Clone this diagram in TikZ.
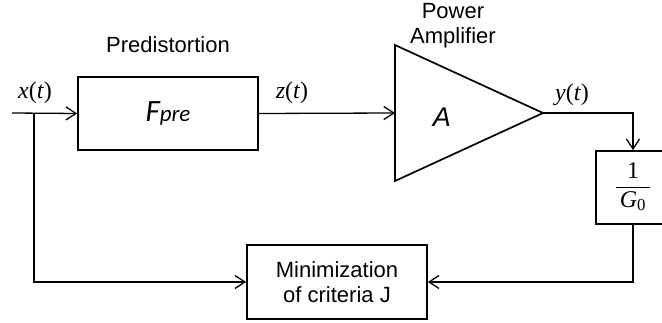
\documentclass[tikz,border=0pt]{standalone}
\usepackage{fontspec}
\newfontfamily\labelfont{Liberation Sans}
\newfontfamily\blockfont{Carlito}
\newfontfamily\signalfont{Liberation Serif}
\usetikzlibrary{arrows.meta}
\newcommand{\sig}[1]{{\itshape #1}(\textit{t})}
\begin{document}
\begin{tikzpicture}[x=1pt,y=-1pt,
  conn/.style={line width=1.3pt},
  arr/.style={conn,-{Straight Barb[length=10pt,width=13pt,line width=1.3pt]}},
  blockbox/.style={draw,line width=1.7pt,rectangle,inner sep=0pt},
  caption/.style={font=\labelfont\fontsize{22}{25}\selectfont,align=center,inner sep=0pt},
  signal/.style={font=\signalfont\fontsize{24}{26}\selectfont,inner sep=0pt}]
\useasboundingbox (0,0) rectangle (662,323);

% blocks
\node[blockbox,minimum width=180pt,minimum height=73pt] (fpre) at (168,113.5)
  {\blockfont\itshape\fontsize{31}{31}\selectfont F\fontsize{23}{23}\selectfont pre};
\node[blockbox,minimum width=74pt,minimum height=73pt,signal] (g0) at (633,187.5)
  {\setlength{\arrayrulewidth}{1pt}\renewcommand{\arraystretch}{1.05}%
   \begin{tabular}{@{\,}c@{\,}}1\\\hline\textit{G}\textsubscript{0}\end{tabular}};
\node[blockbox,minimum width=180pt,minimum height=74pt,caption] (mini) at (337,282)
  {Minimization\\of criteria J};

% power amplifier triangle
\coordinate (paIn) at (395,113);
\coordinate (paOut) at (543,113);
\draw[line width=1.7pt,line join=miter] (395,45) -- (paOut) -- (395,181) -- cycle;
\node[font=\labelfont\itshape\fontsize{27}{27}\selectfont,inner sep=0pt] (amp) at (442,117) {A};

% captions
\node[caption] (predist) at (168,45) {Predistortion};
\node[caption] (power) at (453,25.5) {Power\\Amplifier};

% signal labels
\node[signal] (xlab) at (35,93) {\sig{x}};
\node[signal] (zlab) at (292,93) {\sig{z}};
\node[signal] (ylab) at (572,95) {\sig{y}};

% connectors
\coordinate (src) at (12,113);
\coordinate (branch) at (34,113);
\draw[arr] (src) -- (fpre.west);
\draw[arr] (fpre.east) -- (paIn);
\draw[arr] (paOut) -| (g0.north);
\draw[arr] (g0.south) |- (mini.east);
\draw[arr] (branch) |- (mini.west);
\end{tikzpicture}
\end{document}
